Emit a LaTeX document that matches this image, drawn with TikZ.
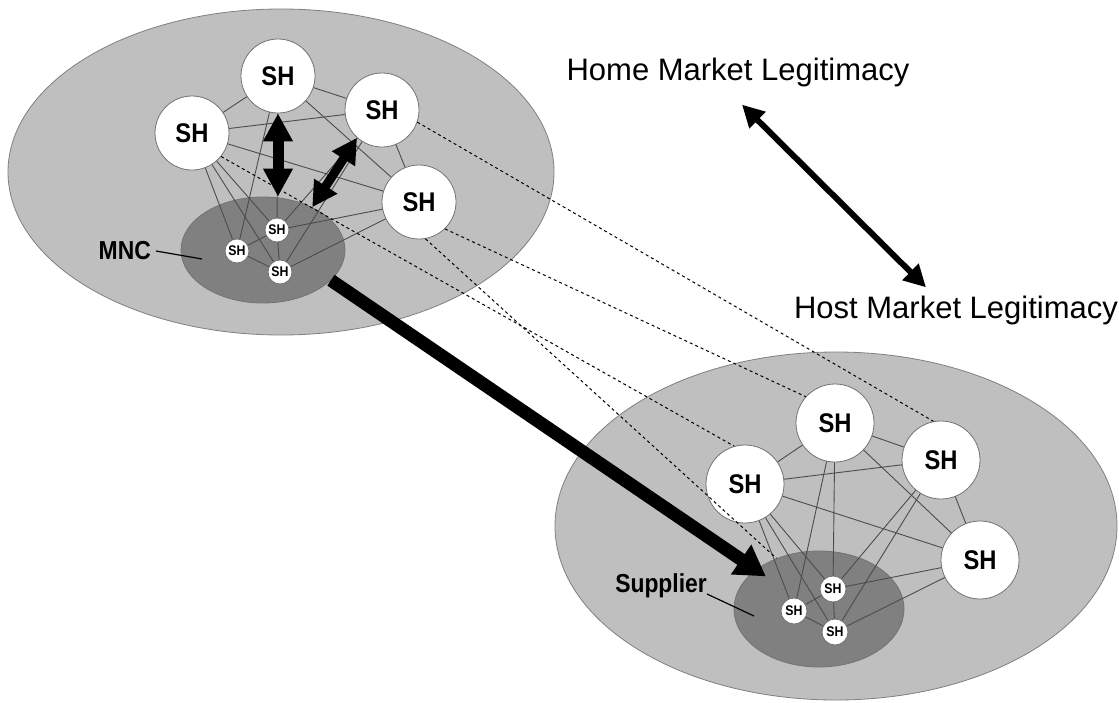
\documentclass[tikz,border=0pt]{standalone}
\usepackage{fontspec}
\setmainfont{Liberation Sans}
\newfontfamily\narrow[FakeStretch=0.88]{Liberation Sans}
\usetikzlibrary{shapes.geometric,arrows.meta}

\begin{document}
\begin{tikzpicture}[x=1pt,y=-1pt,
  market/.style={draw=black!50,fill=black!25,line width=0.8pt},
  firm/.style={ellipse,draw=black!55,fill=black!50,line width=0.8pt,inner sep=0pt},
  sh/.style={circle,draw=black!55,fill=white,line width=0.8pt,inner sep=0pt,
    font=\narrow\bfseries\fontsize{27}{27}\selectfont},
  ssh/.style={circle,draw=black!55,fill=white,line width=0.8pt,inner sep=0pt,
    minimum size=24pt,font=\narrow\bfseries\fontsize{14}{14}\selectfont},
  tie/.style={black!70,line width=0.9pt},
  link/.style={dash pattern=on 3pt off 3pt,line width=1pt},
  lab/.style={inner sep=0pt,font=\narrow\bfseries\fontsize{26}{26}\selectfont},
  legit/.style={inner sep=0pt,font=\fontsize{31}{31}\selectfont},
  fat/.style={line width=11pt,{Triangle[width=28pt,length=28pt]}-{Triangle[width=28pt,length=28pt]}},
  midfat/.style={line width=9pt,{Triangle[width=26pt,length=25pt]}-{Triangle[width=26pt,length=25pt]}}]

\useasboundingbox (0,0) rectangle (1119,702);

% home market
\begin{scope}
\draw[market] (281,172) ellipse [x radius=273,y radius=163];
\node[firm,minimum width=164pt,minimum height=106pt] (umnc) at (263,250) {};
\node[sh,minimum size=74pt] (u1) at (192,133) {SH};
\node[sh,minimum size=74pt] (u2) at (278,76) {SH};
\node[sh,minimum size=74pt] (u3) at (382,110) {SH};
\node[sh,minimum size=74pt] (u4) at (419,202) {SH};
\node[ssh] (ua) at (277,230) {SH};
\node[ssh] (ub) at (237,251) {SH};
\node[ssh] (uc) at (280,272) {SH};
\node[lab,anchor=east] (mnclab) at (151,251) {MNC};
\coordinate (mncpt) at (202,259);
\draw[line width=1.2pt] ([xshift=5pt]mnclab.east) -- (mncpt);
\end{scope}

% host market
\begin{scope}
\draw[market] (836,526) ellipse [x radius=281,y radius=174];
\node[firm,minimum width=170pt,minimum height=116pt] (lmnc) at (819,609) {};
\node[sh,minimum size=78pt] (l1) at (745,484) {SH};
\node[sh,minimum size=78pt] (l2) at (835,423) {SH};
\node[sh,minimum size=78pt] (l3) at (941,460) {SH};
\node[sh,minimum size=78pt] (l4) at (980,560) {SH};
\node[ssh,minimum size=26pt] (la) at (833,589) {SH};
\node[ssh,minimum size=26pt] (lb) at (794,611) {SH};
\node[ssh,minimum size=26pt] (lc) at (835,632) {SH};
\node[lab,anchor=base east] (suplab) at (707,592) {Supplier};
\coordinate (suppt) at (754,616);
\draw[line width=1.2pt] ([yshift=-2pt]suplab.base east) -- (suppt);
\end{scope}

% stakeholder ties
\foreach \p in {u,l}
  \foreach \a/\b in {1/2,2/3,1/3,1/4,2/4,3/4,1/a,1/b,1/c,2/a,2/b,3/a,3/c,4/a,4/c,a/b,b/c,a/c}
    \draw[tie] (\p\a) -- (\p\b);

% links between the markets
\draw[link] (u3.-19) -- (l3.101);
\draw[link] (u4.-46) -- (l2.138);
\draw[link] (u1.-39) -- (l1.106);
\draw[link] (u4.-80) -- (lmnc.130);

\draw[fat] (u2.south) -- (u2.south |- umnc.north);
\draw[midfat] (u3.228) -- (umnc.41);
\draw[line width=13pt,-{Triangle[width=34pt,length=30pt]},shorten >=-12pt] (umnc.-24) -- (lmnc.148);

\node[legit,anchor=base] (home) at (738,80) {Home Market Legitimacy};
\node[legit,anchor=base] (host) at (956,318) {Host Market Legitimacy};
\draw[line width=6pt,{Triangle[width=22pt,length=22pt]}-{Triangle[width=22pt,length=22pt]}]
  ([xshift=4pt,yshift=-18pt]home.south) -- ([xshift=-30pt,yshift=8pt]host.north);

\end{tikzpicture}
\end{document}
